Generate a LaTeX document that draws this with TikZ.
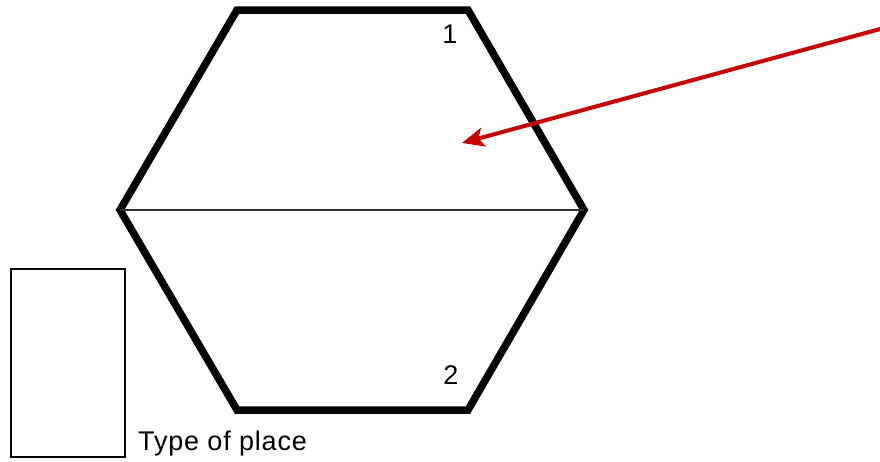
\documentclass[tikz,border=0pt]{standalone}
\usepackage{fontspec}
\setmainfont{Liberation Sans}
\usetikzlibrary{arrows.meta}
\definecolor{arrowred}{HTML}{C80000}
\tikzset{
  hexline/.style={line width=7.5pt, line join=miter},
  midline/.style={line width=1.2pt, draw=black!80},
  typebox/.style={draw, line width=2.3pt, minimum width=114pt, minimum height=188pt, inner sep=0pt},
  lbl/.style={font=\fontsize{27}{30}\selectfont\addfontfeatures{LetterSpace=3}, inner sep=0pt},
  pointer/.style={draw=arrowred, line width=4pt, -{Stealth[length=22pt,width=19pt,inset=5pt]}}
}
\begin{document}
\begin{tikzpicture}[x=1pt,y=-1pt]
\useasboundingbox (0,0) rectangle (880,461);
\coordinate (tl) at (237,10);
\coordinate (tr) at (468,10);
\coordinate (r) at (584,210);
\coordinate (br) at (468,410);
\coordinate (bl) at (237,410);
\coordinate (l) at (120,210);
\draw[hexline] (tl) -- (tr) -- (r) -- (br) -- (bl) -- (l) -- cycle;
\draw[midline] (l) -- (r);
\node[lbl] (one) at (450,34) {1};
\node[lbl] (two) at (451,375) {2};
\node[typebox] (box) at (68,363) {};
\node[lbl, anchor=base west] (type) at (138,450) {Type of place};
\coordinate (start) at (882,28.5);
\coordinate (tip) at (462,143);
\draw[pointer] (start) -- (tip);
\end{tikzpicture}
\end{document}
